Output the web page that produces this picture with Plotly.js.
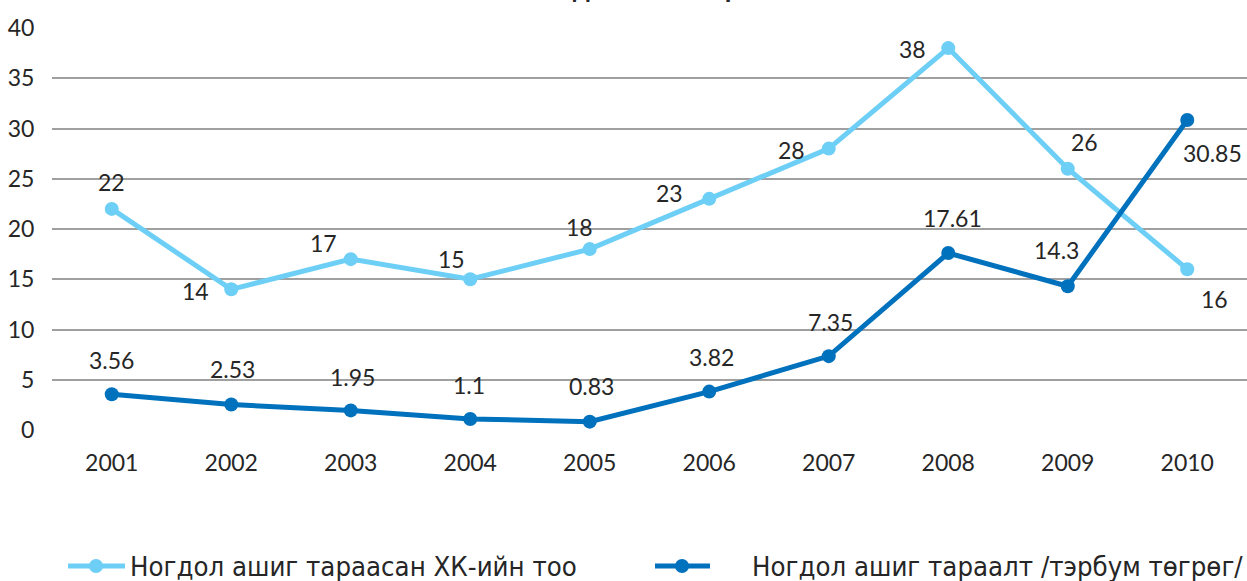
<!DOCTYPE html>
<html>
<head>
<meta charset="utf-8">
<script src="https://cdn.plot.ly/plotly-3.0.1.min.js"></script>
<style>html,body{margin:0;padding:0;background:#fff;}#chart{width:1247px;height:581px;}</style>
</head>
<body>
<div id="chart"></div>
<script>
// ---- data ----
var years = ['2001','2002','2003','2004','2005','2006','2007','2008','2009','2010'];
var companies = [22, 14, 17, 15, 18, 23, 28, 38, 26, 16];
var dividends = [3.56, 2.53, 1.95, 1.1, 0.83, 3.82, 7.35, 17.61, 14.3, 30.85];
var seriesNames = ['Ногдол ашиг тараасан ХК-ийн тоо', 'Ногдол ашиг тараалт /тэрбум төгрөг/'];
var titleText = 'Ногдол ашиг тараалт';
var yTicks = [0, 5, 10, 15, 20, 25, 30, 35, 40];

// ---- label offsets (pixels) ----
var lightShift = [[0,27],[-36,-2],[-27,16],[-19,20],[-10,22],[-40,6],[-37,-1],[-36,-1],[17,27],[27,-30]];
var darkShift  = [[0,34],[1,36],[2,33],[-1,34],[2,36],[2,35],[2,34],[4,35],[-11,36],[25,-33]];

var lightColor = '#6dcff6';
var darkColor = '#0071bc';
var textColor = '#262626';
var numFont = 'Lato, "Open Sans", "DejaVu Sans", sans-serif';

// plot area in pixels
var L = 52, R = 1247, T = 28, B = 430;
function px2x(p){ return (p - L) / (R - L); }
function py2y(p){ return (B - p) / (B - T); }

var traces = [
  {x: years, y: companies, type: 'scatter', mode: 'lines+markers', name: seriesNames[0],
   line: {color: lightColor, width: 5}, marker: {color: lightColor, size: 14}, cliponaxis: false, hoverinfo: 'x+y'},
  {x: years, y: dividends, type: 'scatter', mode: 'lines+markers', name: seriesNames[1],
   line: {color: darkColor, width: 5}, marker: {color: darkColor, size: 14}, cliponaxis: false, hoverinfo: 'x+y'}
];

var annotations = [];
years.forEach(function(yr, i){
  annotations.push({x: i, y: companies[i], xref: 'x', yref: 'y', text: String(companies[i]), showarrow: false,
    xshift: lightShift[i][0], yshift: lightShift[i][1], font: {family: numFont, size: 23, color: textColor}});
  annotations.push({x: i, y: dividends[i], xref: 'x', yref: 'y', text: String(dividends[i]), showarrow: false,
    xshift: darkShift[i][0], yshift: darkShift[i][1], font: {family: numFont, size: 23, color: textColor}});
});

// title (mostly cut off at top, as in reference)
annotations.push({x: px2x(662), y: py2y(6.5), xref: 'paper', yref: 'paper', xanchor: 'center', yanchor: 'bottom',
  text: '<b>' + titleText + '</b>', showarrow: false,
  font: {family: numFont, size: 27, color: textColor}});

// manual legend
var legendY = 566;
var legendItems = [
  {x0: 68, x1: 125, xm: 96, tx: 128, color: lightColor},
  {x0: 655, x1: 710, xm: 682, tx: 750, color: darkColor}
];
var shapes = [];
legendItems.forEach(function(it, i){
  shapes.push({type: 'line', xref: 'paper', yref: 'paper', x0: px2x(it.x0), x1: px2x(it.x1),
    y0: py2y(legendY), y1: py2y(legendY), line: {color: it.color, width: 5}, layer: 'above'});
  shapes.push({type: 'circle', xref: 'paper', yref: 'paper', x0: px2x(it.xm - 7), x1: px2x(it.xm + 7),
    y0: py2y(legendY + 7), y1: py2y(legendY - 7), fillcolor: it.color, line: {color: it.color, width: 0}, layer: 'above'});
  annotations.push({x: px2x(it.tx), y: py2y(legendY), xref: 'paper', yref: 'paper', xanchor: 'left', yanchor: 'middle',
    text: seriesNames[i], showarrow: false,
    font: {family: '"Liberation Sans Narrow", "DejaVu Sans Condensed", sans-serif', size: 27.3, color: textColor}});
});

var layout = {
  width: 1247, height: 581,
  margin: {l: L, r: 1247 - R, t: T, b: 581 - B, pad: 0},
  paper_bgcolor: '#ffffff', plot_bgcolor: '#ffffff',
  showlegend: false,
  xaxis: {type: 'category', range: [-0.5, 9.5], showgrid: false, zeroline: false, showline: false,
    ticks: 'outside', ticklen: 12, tickcolor: 'rgba(0,0,0,0)',
    tickfont: {family: numFont, size: 23, color: textColor}, fixedrange: true},
  yaxis: {range: [0, 40], tickvals: yTicks, showgrid: true, gridcolor: '#a0a0a0', gridwidth: 2,
    zeroline: false, showline: false, ticks: 'outside', ticklen: 12, tickcolor: 'rgba(0,0,0,0)',
    tickfont: {family: numFont, size: 23, color: textColor}, fixedrange: true},
  annotations: annotations,
  shapes: shapes
};

Plotly.newPlot('chart', traces, layout, {displayModeBar: false, staticPlot: true});
</script>
</body>
</html>
